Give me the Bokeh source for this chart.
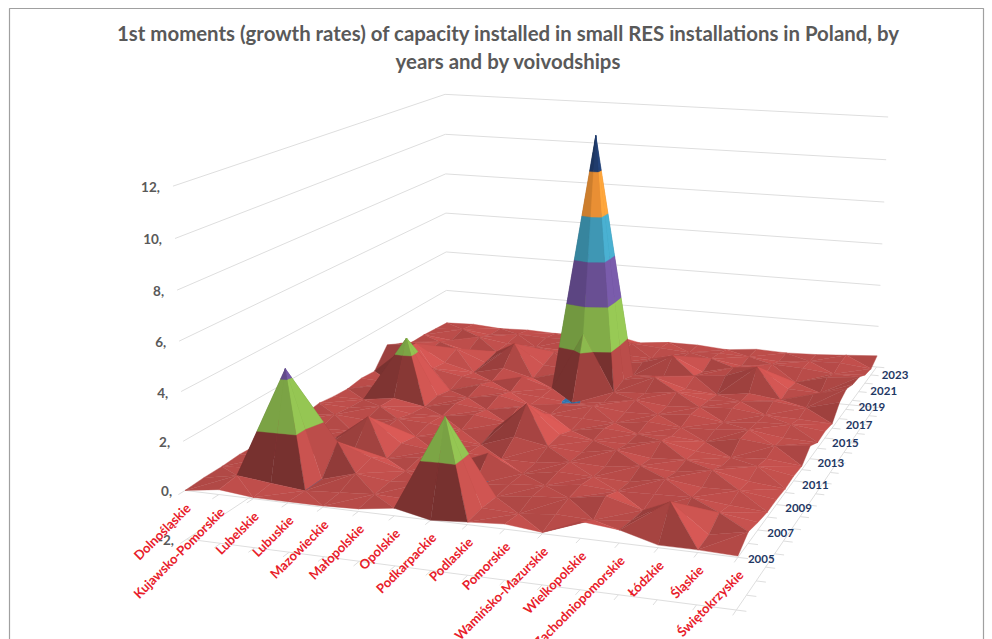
import numpy as np
from bokeh.core.properties import value
from bokeh.embed import file_html
from bokeh.models import Range1d
from bokeh.plotting import figure
from bokeh.resources import INLINE

TITLE_LINES = [
    "1st moments (growth rates) of capacity installed in small RES installations in Poland, by",
    "years and by voivodships",
]
VOIVODSHIPS = ["Dolnośląskie", "Kujawsko-Pomorskie", "Lubelskie", "Lubuskie", "Mazowieckie",
               "Małopolskie", "Opolskie", "Podkarpackie", "Podlaskie", "Pomorskie",
               "Wamińsko-Mazurskie", "Wielkopolskie", "Zachodniopomorskie", "Łódzkie",
               "Śląskie", "Świętokrzyskie"]
YEARS = list(range(2005, 2024))
Z_TICKS = [-2, 0, 2, 4, 6, 8, 10, 12]

# growth rate per voivodship, one list for each year
v2005 = [0.00, 0.20, 0.05, 0.05, 0.05, 0.10, 0.30, 0.00, 0.10, 0.20, 0.05, 0.65, 0.50, 0.10, 0.10, 0.05]
v2006 = [0.05, 0.30, 0.15, 0.00, 0.10, 0.20, 0.15, 3.60, 0.15, 0.10, 0.25, 0.20, 0.35, 1.25, 0.15, 0.45]
v2007 = [0.05, 0.15, 4.40, 0.00, 0.40, 0.25, 0.35, 0.20, 0.10, 0.30, 0.40, 0.65, 0.25, 0.20, 0.50, 0.30]
v2008 = [0.10, 0.20, 0.25, 1.10, 0.60, 0.20, 0.30, -0.04, 0.15, 0.25, 0.45, 0.35, 0.40, 0.45, 0.30, 0.20]
v2009 = [0.05, 0.30, 0.15, 0.25, 0.10, 0.30, 0.20, 0.80, 0.10, 0.35, 0.30, 0.25, 0.55, 0.35, 0.40, 0.20]
v2010 = [0.15, 0.10, 0.25, 1.30, 0.30, 0.15, 0.20, 0.10, 0.10, 0.30, 0.25, 0.45, 0.35, 0.60, 0.30, 0.15]
v2011 = [0.20, 0.05, 0.10, 0.25, 0.15, 0.25, 0.10, 0.60, 0.35, 0.25, 0.50, 0.30, 0.40, 0.30, 0.45, 0.20]
v2012 = [0.10, 0.25, 0.15, 0.35, 0.30, 0.15, 0.30, 1.60, 0.40, 0.30, 0.30, 0.60, 0.30, 0.20, 0.30, 0.15]
v2013 = [0.20, 0.15, 0.35, 0.15, 0.20, 0.40, 0.20, 0.80, 0.15, 0.40, 0.30, 0.35, 0.25, 0.55, 0.40, 0.55]
v2014 = [0.10, 0.10, 0.30, 0.05, 0.35, 0.20, 0.45, 0.30, 0.25, 0.20, 0.40, 0.30, 0.35, 0.50, 0.30, 0.25]
v2015 = [0.05, 0.35, 2.70, 0.15, 0.20, 0.45, 0.15, 0.30, 0.40, 0.25, 0.30, 0.45, 0.25, 0.40, 0.45, 0.30]
v2016 = [0.15, 0.10, 0.30, 0.00, 0.40, 0.20, 0.10, -0.05, 0.15, 0.40, 0.25, 0.35, 0.45, 0.30, 0.25, 0.20]
v2017 = [0.10, 1.30, 0.50, 0.25, 0.15, 0.50, 0.10, 2.80, 0.20, 0.30, 0.50, 0.25, 0.35, 0.50, 0.35, 0.75]
v2018 = [1.00, 1.20, 0.40, 0.05, 0.40, 0.05, 0.45, 11.60, 0.40, 0.65, 0.25, 0.10, 0.30, 0.15, 0.55, 0.95]
v2019 = [0.70, 0.40, 0.70, 0.15, 1.20, 0.30, 0.20, 0.60, 0.20, 0.30, 0.45, 0.60, 1.15, 0.25, 0.20, 0.75]
v2020 = [0.40, 0.55, 0.20, 0.30, 0.25, 0.55, 0.50, 0.25, 0.45, 0.90, 0.25, 0.60, 0.35, 0.15, 0.55, 0.70]
v2021 = [0.40, 0.25, 0.55, 0.35, 0.30, 0.25, 0.60, 0.30, 0.25, 0.40, 0.50, 0.30, 0.50, 0.45, 0.30, 0.40]
v2022 = [0.35, 0.45, 0.30, 0.45, 0.40, 0.45, 0.30, 0.50, 0.40, 0.30, 0.40, 0.35, 0.25, 0.40, 0.45, 0.30]
v2023 = [0.30, 0.35, 0.25, 0.30, 0.25, 0.30, 0.45, 0.15, 0.30, 0.30, 0.20, 0.35, 0.30, 0.35, 0.45, 0.55]

Z = np.array([v2005, v2006, v2007, v2008, v2009, v2010, v2011, v2012, v2013, v2014,
              v2015, v2016, v2017, v2018, v2019, v2020, v2021, v2022, v2023])
NX, NY = Z.shape[1], Z.shape[0]

# value bands of the surface: lower bound, upper bound, base colour
BANDS = [(-2, 0, "#2f6fa8"), (0, 2, "#bb4d4a"), (2, 4, "#7da646"), (4, 6, "#654c8e"),
         (6, 8, "#3d92ad"), (8, 10, "#e08a32"), (10, 12, "#1f3a68")]

# Perspective camera solved from known places of the chart box: (column, year index, value) -> page pixel
ANCHORS = [
    ((0, 0, 0), (186, 490)), ((15, 0, 0), (735, 558)), ((15, 18, 0), (877, 367)), ((0, 18, 0), (443, 328)),
    ((0, 0, 12), (171, 187)), ((15, 18, 12), (887, 116)), ((0, 18, 12), (447, 95)),
    ((0, 0, -2), (189, 540)), ((15, 0, -2), (735, 610)), ((15, 18, -2), (875, 408)),
    ((8, 12, 0), (616, 393)), ((6, 12, 0), (554, 389)), ((8, 14, 0), (636, 380)), ((7, 13, 11.6), (597, 135)),
    ((2, 10, 2.7), (400, 338)), ((2, 2, 4.4), (283, 367)), ((7, 1, 3.6), (442, 413)),
    ((13, 1, 1.25), (675, 502)), ((12, 14, 1.15), (748, 367)), ((7, 12, 2.8), (587, 332)),
]


def solve_camera(anchors):
    rows = []
    for (x, y, z), (u, v) in anchors:
        rows.append([x, y, z, 1, 0, 0, 0, 0, -u * x, -u * y, -u * z, -u])
        rows.append([0, 0, 0, 0, x, y, z, 1, -v * x, -v * y, -v * z, -v])
    return np.linalg.svd(np.array(rows, float))[2][-1].reshape(3, 4)


CAM = solve_camera(ANCHORS)
CAM_CENTRE = np.linalg.svd(CAM)[2][-1]
CAM_CENTRE = CAM_CENTRE[:3] / CAM_CENTRE[3]


def project(x, y, z):
    h = CAM @ np.array([x, y, z, 1.0])
    return h[0] / h[2], h[1] / h[2]


def clip_band(tri, lo, hi):
    """Cut a triangle down to the part lying between two values."""
    def cut(poly, limit, keep_above):
        out = []
        for a, b in zip(poly, poly[1:] + poly[:1]):
            da, db = a[2] - limit, b[2] - limit
            ina = da >= 0 if keep_above else da <= 0
            inb = db >= 0 if keep_above else db <= 0
            if ina:
                out.append(a)
            if ina != inb:
                t = da / (da - db)
                out.append(tuple(a[k] + t * (b[k] - a[k]) for k in range(3)))
        return out
    poly = cut(list(tri), lo, True)
    return cut(poly, hi, False) if len(poly) >= 3 else []


LIGHT = np.array([0.62, 0.30, 0.72])
LIGHT = LIGHT / np.linalg.norm(LIGHT)
Z_SCALE = 0.6


def face_normal(tri):
    a, b, c = [np.array([q[0], q[1] * 0.9, q[2] * Z_SCALE]) for q in tri]
    n = np.cross(b - a, c - a)
    n = n / np.linalg.norm(n)
    return -n if n[2] < 0 else n


def shade(hex_colour, tri, is_red):
    n = face_normal(tri)
    if is_red:
        d = float(np.clip(n @ LIGHT, 0, 1))
        flat = LIGHT[2]
        f = 0.64 + 0.36 * d / flat if d < flat else 1 + 0.2 * (d - flat) / (1 - flat)
    else:
        # the tall upper bands keep more colour on their shaded sides
        f = 0.98 + 0.24 * n[0]
    rgb = [int(hex_colour[k:k + 2], 16) for k in (1, 3, 5)]
    return "#%02x%02x%02x" % tuple(min(255, int(v * f)) for v in rgb)


def cell_triangles(i, j):
    q = lambda a, b: (float(a), float(b), float(Z[b, a]))
    if (i + j) % 2 == 0:
        tris = [(q(i, j), q(i + 1, j), q(i + 1, j + 1)), (q(i, j), q(i + 1, j + 1), q(i, j + 1))]
    else:
        tris = [(q(i, j), q(i + 1, j), q(i, j + 1)), (q(i + 1, j), q(i + 1, j + 1), q(i, j + 1))]
    dist = lambda t: (np.mean([s[0] for s in t]) - CAM_CENTRE[0]) ** 2 + (np.mean([s[1] for s in t]) - CAM_CENTRE[1]) ** 2
    return sorted(tris, key=dist, reverse=True)


# far cells first so that nearer ones paint over them
cells = [(i, j) for j in range(NY - 1) for i in range(NX - 1)]
cells.sort(key=lambda c: ((c[0] + 0.5 - CAM_CENTRE[0]) ** 2 + (c[1] + 0.5 - CAM_CENTRE[1]) ** 2), reverse=True)

xs, ys, colours = [], [], []
for i, j in cells:
    for tri in cell_triangles(i, j):
        for lo, hi, col in BANDS:
            poly = clip_band(tri, lo, hi)
            if len(poly) < 3:
                continue
            pts = [project(*s) for s in poly]
            xs.append([s[0] for s in pts])
            ys.append([s[1] for s in pts])
            colours.append(shade(col, tri, lo <= 0))

p = figure(width=992, height=639, x_range=Range1d(0, 992), y_range=Range1d(639, 0),
           output_backend="svg", toolbar_location=None, min_border=0, x_axis_type=None, y_axis_type=None)
p.grid.visible = False
p.outline_line_color = None
p.background_fill_color = "#ffffff"
p.border_fill_color = "#ffffff"

# frame of the chart area
p.line([9, 9, 983, 983], [639, 8, 8, 639], line_color="#a0a0a0", line_width=1.2)

GRID = "#dedede"


def seg(a, b, color=GRID, width=1.0):
    pa, pb = project(*a), project(*b)
    p.line([pa[0], pb[0]], [pa[1], pb[1]], line_color=color, line_width=width)


# walls and floor of the box
X1, Y1 = NX - 1, NY - 1
for z in Z_TICKS:
    seg((0, 0, z), (0, Y1, z))
    seg((0, Y1, z), (X1, Y1, z))
seg((0, 0, -2), (X1, 0, -2))
seg((X1, 0, -2), (X1, Y1, -2))
seg((0, 0, 0), (X1, 0, 0))
seg((X1, 0, 0), (X1, Y1, 0))
for i in range(NX):
    seg((i, 0, 0), (i, -0.35, 0))
    seg((i, 0, -2), (i, -0.35, -2))
for j in range(NY):
    seg((X1, j, 0), (X1 + 0.25, j, 0))
    seg((X1, j, -2), (X1 + 0.25, j, -2))

p.patches(xs, ys, fill_color=colours, line_color=colours, line_width=0.4)

FONT = value("Lato")

# title
p.text([508, 508], [32, 60], text=TITLE_LINES, text_font=FONT, text_font_size="20.4px",
       text_font_style="bold", text_color="#595959", text_align="center", text_baseline="middle")

# value axis labels
zx, zy, zt = [], [], []
for z in Z_TICKS:
    x0, y0 = project(0, 0, z)
    zx.append(x0 - 13)
    zy.append(y0 + 1)
    zt.append(f"{z},")
p.text(zx, zy, text=zt, text_font=FONT, text_font_size="13.5px", text_font_style="bold",
       text_color="#595959", text_align="right", text_baseline="middle")

# voivodship labels, slanted
vx, vy = [], []
for i in range(NX):
    x0, y0 = project(i, 0, 0)
    vx.append(x0 + 3)
    vy.append(y0 + 15)
p.text(vx, vy, text=VOIVODSHIPS, text_font=FONT, text_font_size="13px", text_font_style="bold",
       text_color="#e8202a", text_align="right", text_baseline="middle", angle=np.pi / 4)

# year labels, every second year
yx, yy, yt = [], [], []
for j, yr in enumerate(YEARS):
    if j % 2:
        continue
    x0, y0 = project(X1, j, 0)
    frac = j / Y1
    yx.append(x0 + 10 - 5 * frac)
    yy.append(y0 + 2 + 6 * frac)
    yt.append(str(yr))
p.text(yx, yy, text=yt, text_font=FONT, text_font_size="11.5px", text_font_style="bold",
       text_color="#1f3864", text_align="left", text_baseline="middle")

open("out.html", "w").write(file_html(p, INLINE))
